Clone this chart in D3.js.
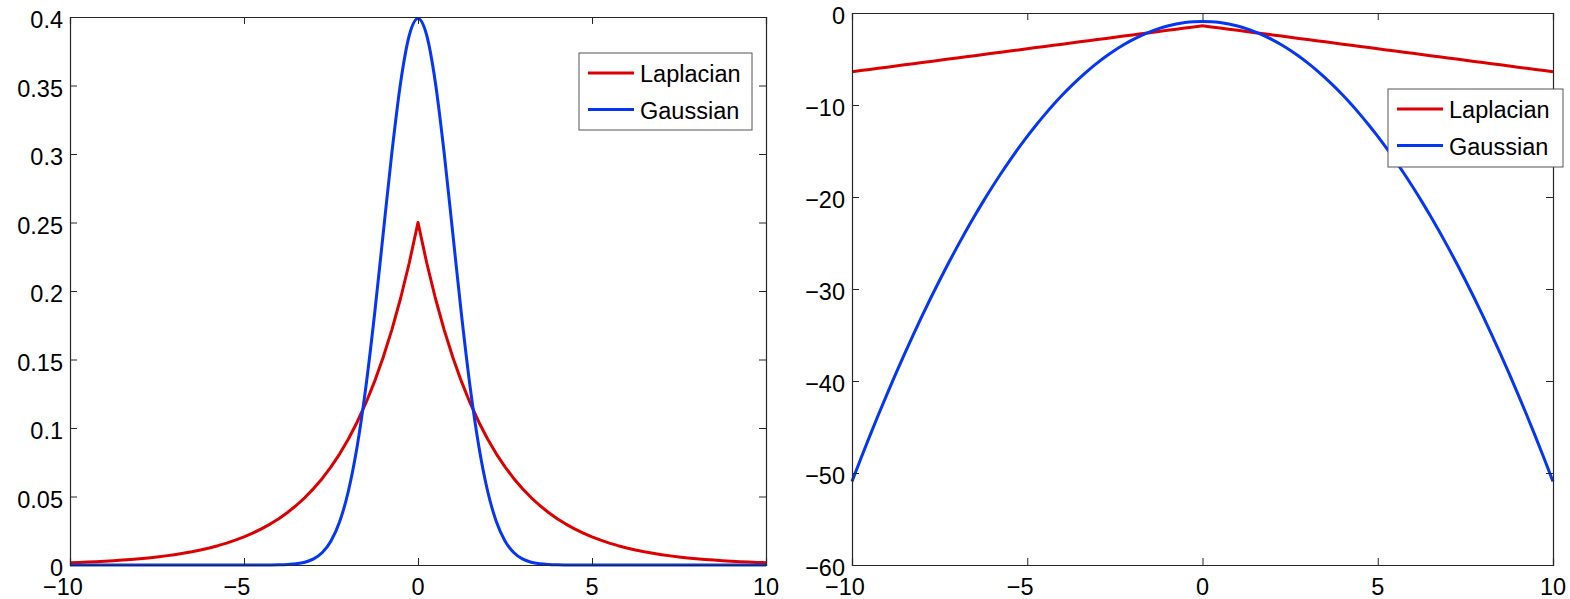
<!DOCTYPE html>
<html><head><meta charset="utf-8">
<script src="https://cdn.jsdelivr.net/npm/d3@7"></script>
<style>
html,body{margin:0;padding:0;background:#fff;}
svg{display:block;}
text{font-family:"Liberation Sans",Arial,Helvetica,sans-serif;font-size:23.5px;fill:#000;}
</style></head>
<body>
<svg id="chart" width="1570" height="599"></svg>
<script>
// ---- data (sampled every 0.25 from -10 to 10) ----
const xs = [-10,-9.75,-9.5,-9.25,-9,-8.75,-8.5,-8.25,-8,-7.75,-7.5,-7.25,-7,-6.75,-6.5,-6.25,-6,-5.75,-5.5,-5.25,-5,-4.75,-4.5,-4.25,-4,-3.75,-3.5,-3.25,-3,-2.75,-2.5,-2.25,-2,-1.75,-1.5,-1.25,-1,-0.75,-0.5,-0.25,0,0.25,0.5,0.75,1,1.25,1.5,1.75,2,2.25,2.5,2.75,3,3.25,3.5,3.75,4,4.25,4.5,4.75,5,5.25,5.5,5.75,6,6.25,6.5,6.75,7,7.25,7.5,7.75,8,8.25,8.5,8.75,9,9.25,9.5,9.75,10];

const laplacianPdf = [0.00168,0.00191,0.00216,0.00245,0.00278,0.00315,0.00357,0.00404,0.00458,0.00519,0.00588,0.00666,0.00755,0.00855,0.00969,0.01098,0.01245,0.01410,0.01598,0.01811,0.02052,0.02325,0.02635,0.02986,0.03383,0.03834,0.04344,0.04923,0.05578,0.06321,0.07163,0.08116,0.09197,0.10421,0.11809,0.13381,0.15163,0.17182,0.19470,0.22062,
0.25,
0.22062,0.19470,0.17182,0.15163,0.13381,0.11809,0.10421,0.09197,0.08116,0.07163,0.06321,0.05578,0.04923,0.04344,0.03834,0.03383,0.02986,0.02635,0.02325,0.02052,0.01811,0.01598,0.01410,0.01245,0.01098,0.00969,0.00855,0.00755,0.00666,0.00588,0.00519,0.00458,0.00404,0.00357,0.00315,0.00278,0.00245,0.00216,0.00191,0.00168];

const gaussianPdf = [0,0,0,0,0,0,0,0,0,0,0,0,0,0,0,0,0,0,0,0,0,0,0.00002,0.00005,0.00013,0.00035,0.00087,0.00203,0.00443,0.00909,0.01753,0.03174,0.05399,0.08628,0.12952,0.18265,0.24197,0.30114,0.35207,0.38667,
0.39894,
0.38667,0.35207,0.30114,0.24197,0.18265,0.12952,0.08628,0.05399,0.03174,0.01753,0.00909,0.00443,0.00203,0.00087,0.00035,0.00013,0.00005,0.00002,0,0,0,0,0,0,0,0,0,0,0,0,0,0,0,0,0,0,0,0,0,0,0];

const laplacianLog = [-6.386,-6.261,-6.136,-6.011,-5.886,-5.761,-5.636,-5.511,-5.386,-5.261,-5.136,-5.011,-4.886,-4.761,-4.636,-4.511,-4.386,-4.261,-4.136,-4.011,-3.886,-3.761,-3.636,-3.511,-3.386,-3.261,-3.136,-3.011,-2.886,-2.761,-2.636,-2.511,-2.386,-2.261,-2.136,-2.011,-1.886,-1.761,-1.636,-1.511,
-1.386,
-1.511,-1.636,-1.761,-1.886,-2.011,-2.136,-2.261,-2.386,-2.511,-2.636,-2.761,-2.886,-3.011,-3.136,-3.261,-3.386,-3.511,-3.636,-3.761,-3.886,-4.011,-4.136,-4.261,-4.386,-4.511,-4.636,-4.761,-4.886,-5.011,-5.136,-5.261,-5.386,-5.511,-5.636,-5.761,-5.886,-6.011,-6.136,-6.261,-6.386];

const gaussianLog = [-50.919,-48.450,-46.044,-43.700,-41.419,-39.200,-37.044,-34.950,-32.919,-30.950,-29.044,-27.200,-25.419,-23.700,-22.044,-20.450,-18.919,-17.450,-16.044,-14.700,-13.419,-12.200,-11.044,-9.950,-8.919,-7.950,-7.044,-6.200,-5.419,-4.700,-4.044,-3.450,-2.919,-2.450,-2.044,-1.700,-1.419,-1.200,-1.044,-0.950,
-0.919,
-0.950,-1.044,-1.200,-1.419,-1.700,-2.044,-2.450,-2.919,-3.450,-4.044,-4.700,-5.419,-6.200,-7.044,-7.950,-8.919,-9.950,-11.044,-12.200,-13.419,-14.700,-16.044,-17.450,-18.919,-20.450,-22.044,-23.700,-25.419,-27.200,-29.044,-30.950,-32.919,-34.950,-37.044,-39.200,-41.419,-43.700,-46.044,-48.450,-50.919];

const xTicks = [-10,-5,0,5,10];
const yTicksLeft = [0,0.05,0.1,0.15,0.2,0.25,0.3,0.35,0.4];
const yTickLabelsLeft = ["0","0.05","0.1","0.15","0.2","0.25","0.3","0.35","0.4"];
const yTicksRight = [-60,-50,-40,-30,-20,-10,0];
const yTickLabelsRight = ["\u221260","\u221250","\u221240","\u221230","\u221220","\u221210","0"];
const seriesNames = ["Laplacian","Gaussian"];
const colors = ["#dc0000","#0636f5"];

const svg = d3.select("#chart");

function fmtX(v){ return v < 0 ? "\u2212" + Math.abs(v) : String(v); }

function panel(opt){
  const g = svg.append("g");
  const x = d3.scaleLinear().domain([-10,10]).range([opt.left,opt.right]);
  const y = d3.scaleLinear().domain(opt.ydomain).range([opt.bottom,opt.top]);
  const T = 7;

  g.append("rect").attr("x",opt.left).attr("y",opt.top)
    .attr("width",opt.right-opt.left).attr("height",opt.bottom-opt.top).attr("fill","#fff");

  const cid = "clip"+opt.id;
  svg.append("clipPath").attr("id",cid).append("rect")
    .attr("x",opt.left-2).attr("y",opt.top-2)
    .attr("width",opt.right-opt.left+4).attr("height",opt.bottom-opt.top+4);

  const curves = [d3.curveLinear, d3.curveMonotoneX];
  opt.series.forEach((s,i)=>{
    const line = d3.line().x((d,j)=>x(xs[j])).y(d=>y(d)).curve(curves[i]);
    g.append("path").datum(s).attr("d",line).attr("fill","none")
      .attr("stroke",colors[i]).attr("stroke-width",3).attr("stroke-linejoin","round")
      .attr("clip-path","url(#"+cid+")");
  });

  const axB = d3.axisBottom(x).tickValues(xTicks).tickSize(-T).tickFormat("");
  const axT = d3.axisTop(x).tickValues(xTicks).tickSize(-T).tickFormat("");
  const axL = d3.axisLeft(y).tickValues(opt.yticks).tickSize(-T).tickFormat("");
  const axR = d3.axisRight(y).tickValues(opt.yticks).tickSize(-T).tickFormat("");
  const ag = g.append("g");
  ag.append("g").attr("transform",`translate(0,${opt.bottom})`).call(axB);
  ag.append("g").attr("transform",`translate(0,${opt.top})`).call(axT);
  ag.append("g").attr("transform",`translate(${opt.left},0)`).call(axL);
  ag.append("g").attr("transform",`translate(${opt.right},0)`).call(axR);
  ag.selectAll(".domain").attr("stroke","#262626").attr("stroke-width",1.2);
  ag.selectAll(".tick line").attr("stroke","#262626").attr("stroke-width",1);

  xTicks.forEach(v=>{
    g.append("text").attr("x",x(v) + (v<0?-7:0)).attr("y",opt.bottom+30)
      .attr("text-anchor","middle").text(fmtX(v));
  });
  opt.yticks.forEach((v,i)=>{
    g.append("text").attr("x",opt.left-7).attr("y",y(v)+11)
      .attr("text-anchor","end").text(opt.ylabels[i]);
  });

  const L = opt.legend;
  g.append("rect").attr("x",L.x).attr("y",L.y).attr("width",L.w).attr("height",L.h)
    .attr("fill","#fff").attr("stroke","#555").attr("stroke-width",1);
  seriesNames.forEach((n,i)=>{
    const yy = L.y + 20 + i*36.5;
    g.append("line").attr("x1",L.x+9).attr("x2",L.x+55).attr("y1",yy).attr("y2",yy)
      .attr("stroke",colors[i]).attr("stroke-width",3);
    g.append("text").attr("x",L.x+61).attr("y",yy+9).text(n);
  });
}

panel({id:"L", left:70, right:766, top:17, bottom:565, ydomain:[0,0.4],
  yticks:yTicksLeft, ylabels:yTickLabelsLeft,
  series:[laplacianPdf, gaussianPdf],
  legend:{x:579, y:53, w:173, h:77}});

panel({id:"R", left:852, right:1553, top:13, bottom:565, ydomain:[-60,0],
  yticks:yTicksRight, ylabels:yTickLabelsRight,
  series:[laplacianLog, gaussianLog],
  legend:{x:1388, y:89, w:175, h:78}});
</script>
</body></html>
